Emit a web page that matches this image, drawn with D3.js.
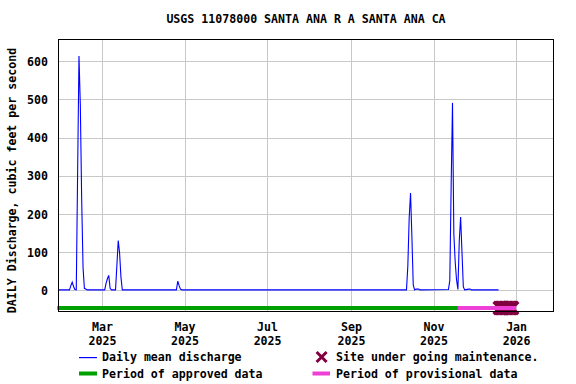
<!DOCTYPE html>
<html><head><meta charset="utf-8">
<script src="https://cdn.jsdelivr.net/npm/d3@7"></script>
<style>
body{margin:0;background:#fff}
svg{display:block}
text{font-family:"DejaVu Sans Mono",monospace;font-weight:bold;font-size:11.6px;fill:#000}
</style>
</head><body>
<svg id="c" width="576" height="384"></svg>
<script>
const title = "USGS 11078000 SANTA ANA R A SANTA ANA CA";
const yLabel = "DAILY Discharge, cubic feet per second";

// Daily mean discharge (cfs); flat baseline stretches are given by their end points
const dates = ["2025-01-28","2025-02-05","2025-02-06","2025-02-07","2025-02-08","2025-02-09","2025-02-10",
  "2025-02-11","2025-02-12","2025-02-13","2025-02-14","2025-02-15","2025-02-16","2025-02-17","2025-02-18",
  "2025-03-03","2025-03-04","2025-03-05","2025-03-06","2025-03-07","2025-03-08",
  "2025-03-11","2025-03-12","2025-03-13","2025-03-14","2025-03-15","2025-03-16",
  "2025-04-25","2025-04-26","2025-04-27","2025-04-28","2025-04-29",
  "2025-10-12","2025-10-13","2025-10-14","2025-10-15","2025-10-16","2025-10-17","2025-10-18",
  "2025-10-19","2025-10-20","2025-10-21","2025-10-22",
  "2025-11-12","2025-11-13","2025-11-14","2025-11-15","2025-11-16","2025-11-17","2025-11-18",
  "2025-11-19","2025-11-20","2025-11-21","2025-11-22","2025-11-23","2025-11-24",
  "2025-11-27","2025-11-28","2025-11-29","2025-12-19"];
const discharge = [1,1,12,21,10,2,1,
  308,614,485,237,60,5,3,1,
  1,18,30,39,5,1,
  1,64,130,98,35,1,
  1,24,12,3,1,
  1,64,190,255,140,14,1,
  3,3,3,1,
  2,25,271,491,147,74,27,
  2,129,192,100,9,1,
  3,3,1,1];

const approvedPeriod = ["2025-01-27","2025-11-19"];
const provisionalPeriod = ["2025-11-19","2026-01-01"];
const maintenanceDates = ["2025-12-20","2025-12-21","2025-12-22","2025-12-23","2025-12-24",
  "2025-12-25","2025-12-26","2025-12-27","2025-12-28","2025-12-29"];

const xDomain = ["2025-01-27T12:00","2026-01-29T00:00"];
const yDomain = [-57, 658.4];
const monthTicks = ["2025-03-01","2025-05-01","2025-07-01","2025-09-01","2025-11-01","2026-01-01"];
const monthLabels = [["Mar","2025"],["May","2025"],["Jul","2025"],["Sep","2025"],["Nov","2025"],["Jan","2026"]];
const yTicks = [0,100,200,300,400,500,600];

const legendItems = ["Daily mean discharge","Site under going maintenance.","Period of approved data","Period of provisional data"];

const colors = {line:"#0000ff", approved:"#00a000", provisional:"#ee3fd6", maint:"#800040", grid:"#c8c8c8"};

const parse = d3.timeParse("%Y-%m-%d");
const L = 58, R = 554, T = 39, B = 312;
const svg = d3.select("#c");

const x = d3.scaleTime().domain(xDomain.map(s => new Date(s))).range([L, R]);
const y = d3.scaleLinear().domain(yDomain).range([B, T]);

// grid
svg.append("g").attr("transform",`translate(0,${B})`)
  .call(d3.axisBottom(x).tickValues(monthTicks.map(parse)).tickSize(-(B-T)).tickFormat(""))
  .call(g => g.select(".domain").remove())
  .call(g => g.selectAll("line").attr("stroke",colors.grid).attr("shape-rendering","crispEdges"));
svg.append("g").attr("transform",`translate(${L},0)`)
  .call(d3.axisLeft(y).tickValues(yTicks).tickSize(-(R-L)).tickFormat(""))
  .call(g => g.select(".domain").remove())
  .call(g => g.selectAll("line").attr("stroke",colors.grid).attr("shape-rendering","crispEdges"));

// y tick labels
svg.append("g").attr("transform",`translate(${L},0)`)
  .call(d3.axisLeft(y).tickValues(yTicks).tickSize(0).tickPadding(10).tickFormat(d3.format("d")))
  .call(g => g.select(".domain").remove())
  .call(g => g.selectAll("text").attr("font-family",null).attr("font-size",null).attr("dy","0.36em"));

// x tick labels
const xa = svg.append("g").attr("transform",`translate(0,${B})`)
  .call(d3.axisBottom(x).tickValues(monthTicks.map(parse)).tickSize(0).tickFormat(""))
  .call(g => g.select(".domain").remove());
xa.selectAll(".tick").each(function(d,i){
  const t = d3.select(this).append("text").attr("text-anchor","middle");
  t.append("tspan").attr("x",0).attr("y",18.5).text(monthLabels[i][0]);
  t.append("tspan").attr("x",0).attr("y",32.5).text(monthLabels[i][1]);
});

// data line
const pts = dates.map((d,i) => ({date: parse(d), v: discharge[i]}));
svg.append("path").datum(pts)
  .attr("fill","none").attr("stroke",colors.line).attr("stroke-width",1.1)
  .attr("d", d3.line().x(d => x(d.date)).y(d => y(d.v)));

// maintenance markers
const xShape = "M-5,-5L5,5M-5,5L5,-5";
svg.append("g").selectAll("path").data(maintenanceDates).join("path")
  .attr("transform", d => `translate(${x(parse(d))},308)`)
  .attr("d", xShape).attr("stroke",colors.maint).attr("stroke-width",3.5)
  .attr("stroke-linecap","square").attr("fill","none");

// period bars
svg.append("rect").attr("x",x(parse(approvedPeriod[0]))).attr("y",306)
  .attr("width",x(parse(approvedPeriod[1]))-x(parse(approvedPeriod[0]))).attr("height",4).attr("fill",colors.approved);
svg.append("rect").attr("x",x(parse(provisionalPeriod[0]))).attr("y",306)
  .attr("width",x(parse(provisionalPeriod[1]))-x(parse(provisionalPeriod[0]))).attr("height",4).attr("fill",colors.provisional);

// frame
svg.append("rect").attr("x",L+0.5).attr("y",T+0.5).attr("width",R-L-1).attr("height",B-T-1)
  .attr("fill","none").attr("stroke","#000").attr("stroke-width",1);

// title
svg.append("text").attr("x",(L+R)/2).attr("y",23).attr("text-anchor","middle").text(title);

// y label
svg.append("text").attr("transform","translate(16,180.5) rotate(-90)").attr("text-anchor","middle").text(yLabel);

// legend
const lg = svg.append("g");
lg.append("rect").attr("x",79).attr("y",357).attr("width",18).attr("height",1.2).attr("fill",colors.line);
lg.append("text").attr("x",102).attr("y",361).text(legendItems[0]);
lg.append("path").attr("transform","translate(321.6,357)").attr("d",xShape).attr("stroke",colors.maint).attr("stroke-width",3).attr("fill","none");
lg.append("text").attr("x",336).attr("y",361).text(legendItems[1]);
lg.append("rect").attr("x",79).attr("y",371.5).attr("width",18).attr("height",4).attr("fill",colors.approved);
lg.append("text").attr("x",102).attr("y",377.5).text(legendItems[2]);
lg.append("rect").attr("x",312.5).attr("y",371.5).attr("width",17.5).attr("height",4).attr("fill",colors.provisional);
lg.append("text").attr("x",336).attr("y",377.5).text(legendItems[3]);
</script>
</body></html>
